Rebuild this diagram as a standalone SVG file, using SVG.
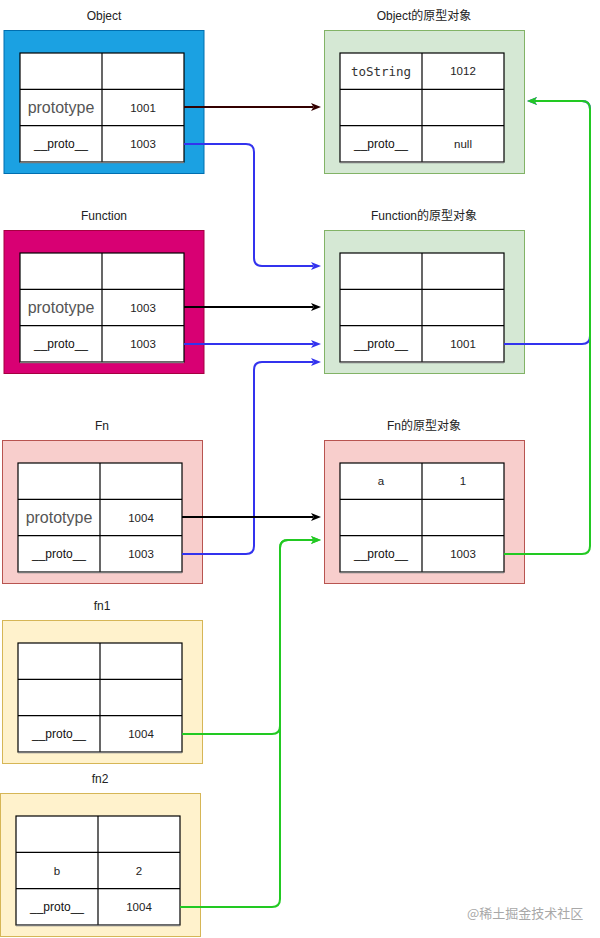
<svg xmlns="http://www.w3.org/2000/svg" width="600" height="938" viewBox="0 0 600 938">
<style>
  text { font-family: "Liberation Sans", Arial, "Noto Sans CJK SC", sans-serif; text-anchor: middle; dominant-baseline: central; fill: #1a1a1a; }
  .title { font-size: 12px; fill: #222; }
  .cell { font-size: 11.5px; fill: #222; }
  .key { font-size: 12px; fill: #111; }
  .big { font-size: 16px; fill: #555; }
  .mono { font-family: "DejaVu Sans Mono", "Liberation Mono", monospace; font-size: 12.5px; fill: #333; }
  .tbl { fill: #fff; stroke: #000; stroke-width: 1.2; }
  .ln { stroke: #000; stroke-width: 1.2; }
  .shadow { stroke: #777; stroke-width: 1.5; }
  .blue-box { fill: #1ba1e2; stroke: #006eaf; }
  .mag-box { fill: #d80073; stroke: #a50040; }
  .green-box { fill: #d5e8d4; stroke: #82b366; }
  .pink-box { fill: #f8cecc; stroke: #b85450; }
  .yel-box { fill: #fff2cc; stroke: #d6b656; }
  .c { fill: none; stroke-width: 2; }
  .wm { font-family: "Noto Sans CJK SC", sans-serif; font-size: 13px; fill: #a8a8a8; text-anchor: start; }
</style>
<defs>
  <marker id="aRed" viewBox="0 0 10 8" markerWidth="10" markerHeight="8" refX="2" refY="4" orient="auto" markerUnits="userSpaceOnUse"><path d="M0,0 L10,4 L0,8 L2.5,4 Z" fill="#330000"/></marker>
  <marker id="aBlack" viewBox="0 0 10 8" markerWidth="10" markerHeight="8" refX="2" refY="4" orient="auto" markerUnits="userSpaceOnUse"><path d="M0,0 L10,4 L0,8 L2.5,4 Z" fill="#000"/></marker>
  <marker id="aBlue" viewBox="0 0 10 8" markerWidth="10" markerHeight="8" refX="2" refY="4" orient="auto" markerUnits="userSpaceOnUse"><path d="M0,0 L10,4 L0,8 L2.5,4 Z" fill="#3333ee"/></marker>
  <marker id="aGreen" viewBox="0 0 10 8" markerWidth="10" markerHeight="8" refX="2" refY="4" orient="auto" markerUnits="userSpaceOnUse"><path d="M0,0 L10,4 L0,8 L2.5,4 Z" fill="#22c922"/></marker>
</defs>
<rect width="600" height="938" fill="#fff"/>

<!-- Object -->
<g id="object">
  <text class="title" x="104" y="16">Object</text>
  <rect class="blue-box" x="4" y="30.5" width="200" height="143"/>
  <rect class="tbl" x="20" y="53" width="164" height="109"/>
  <line class="ln" x1="20" y1="89.3" x2="184" y2="89.3"/>
  <line class="ln" x1="20" y1="125.7" x2="184" y2="125.7"/>
  <line class="ln" x1="102" y1="53" x2="102" y2="162"/>
  <line class="shadow" x1="20" y1="162.5" x2="184" y2="162.5"/>
  <text class="big" x="61" y="107.5">prototype</text>
  <text class="cell" x="143" y="107.5">1001</text>
  <text class="key" x="61" y="144">__proto__</text>
  <text class="cell" x="143" y="144">1003</text>
</g>

<!-- Object prototype -->
<g id="object-proto">
  <text class="title" x="424" y="16">Object的原型对象</text>
  <rect class="green-box" x="324.5" y="30.5" width="200" height="143"/>
  <rect class="tbl" x="340" y="53" width="164" height="109"/>
  <line class="ln" x1="340" y1="89.3" x2="504" y2="89.3"/>
  <line class="ln" x1="340" y1="125.7" x2="504" y2="125.7"/>
  <line class="ln" x1="422" y1="53" x2="422" y2="162"/>
  <line class="shadow" x1="340" y1="162.5" x2="504" y2="162.5"/>
  <text class="mono" x="381" y="71">toString</text>
  <text class="cell" x="463" y="71">1012</text>
  <text class="key" x="381" y="144">__proto__</text>
  <text class="cell" x="463" y="144">null</text>
</g>

<!-- Function -->
<g id="function">
  <text class="title" x="104" y="216">Function</text>
  <rect class="mag-box" x="4" y="230.5" width="200" height="143"/>
  <rect class="tbl" x="20" y="253" width="164" height="109"/>
  <line class="ln" x1="20" y1="289.3" x2="184" y2="289.3"/>
  <line class="ln" x1="20" y1="325.7" x2="184" y2="325.7"/>
  <line class="ln" x1="102" y1="253" x2="102" y2="362"/>
  <line class="shadow" x1="20" y1="362.5" x2="184" y2="362.5"/>
  <text class="big" x="61" y="307.5">prototype</text>
  <text class="cell" x="143" y="307.5">1003</text>
  <text class="key" x="61" y="344">__proto__</text>
  <text class="cell" x="143" y="344">1003</text>
</g>

<!-- Function prototype -->
<g id="function-proto">
  <text class="title" x="424" y="216">Function的原型对象</text>
  <rect class="green-box" x="324.5" y="230.5" width="200" height="143"/>
  <rect class="tbl" x="340" y="253" width="164" height="109"/>
  <line class="ln" x1="340" y1="289.3" x2="504" y2="289.3"/>
  <line class="ln" x1="340" y1="325.7" x2="504" y2="325.7"/>
  <line class="ln" x1="422" y1="253" x2="422" y2="362"/>
  <line class="shadow" x1="340" y1="362.5" x2="504" y2="362.5"/>
  <text class="key" x="381" y="344">__proto__</text>
  <text class="cell" x="463" y="344">1001</text>
</g>

<!-- Fn -->
<g id="fn">
  <text class="title" x="102" y="426">Fn</text>
  <rect class="pink-box" x="2.5" y="440.5" width="200" height="143"/>
  <rect class="tbl" x="18" y="463" width="164" height="109"/>
  <line class="ln" x1="18" y1="499.3" x2="182" y2="499.3"/>
  <line class="ln" x1="18" y1="535.7" x2="182" y2="535.7"/>
  <line class="ln" x1="100" y1="463" x2="100" y2="572"/>
  <line class="shadow" x1="18" y1="572.5" x2="182" y2="572.5"/>
  <text class="big" x="59" y="517.5">prototype</text>
  <text class="cell" x="141" y="517.5">1004</text>
  <text class="key" x="59" y="554">__proto__</text>
  <text class="cell" x="141" y="554">1003</text>
</g>

<!-- Fn prototype -->
<g id="fn-proto">
  <text class="title" x="424" y="426">Fn的原型对象</text>
  <rect class="pink-box" x="324.5" y="440.5" width="200" height="143"/>
  <rect class="tbl" x="340" y="463" width="164" height="109"/>
  <line class="ln" x1="340" y1="499.3" x2="504" y2="499.3"/>
  <line class="ln" x1="340" y1="535.7" x2="504" y2="535.7"/>
  <line class="ln" x1="422" y1="463" x2="422" y2="572"/>
  <line class="shadow" x1="340" y1="572.5" x2="504" y2="572.5"/>
  <text class="cell" x="381" y="481">a</text>
  <text class="cell" x="463" y="481">1</text>
  <text class="key" x="381" y="554">__proto__</text>
  <text class="cell" x="463" y="554">1003</text>
</g>

<!-- fn1 -->
<g id="fn1">
  <text class="title" x="102" y="606">fn1</text>
  <rect class="yel-box" x="2.5" y="620.5" width="200" height="143"/>
  <rect class="tbl" x="18" y="643" width="164" height="109"/>
  <line class="ln" x1="18" y1="679.3" x2="182" y2="679.3"/>
  <line class="ln" x1="18" y1="715.7" x2="182" y2="715.7"/>
  <line class="ln" x1="100" y1="643" x2="100" y2="752"/>
  <line class="shadow" x1="18" y1="752.5" x2="182" y2="752.5"/>
  <text class="key" x="59" y="734">__proto__</text>
  <text class="cell" x="141" y="734">1004</text>
</g>

<!-- fn2 -->
<g id="fn2">
  <text class="title" x="100" y="779">fn2</text>
  <rect class="yel-box" x="0.5" y="793.5" width="200" height="143"/>
  <rect class="tbl" x="16" y="816" width="164" height="109"/>
  <line class="ln" x1="16" y1="852.3" x2="180" y2="852.3"/>
  <line class="ln" x1="16" y1="888.7" x2="180" y2="888.7"/>
  <line class="ln" x1="98" y1="816" x2="98" y2="925"/>
  <line class="shadow" x1="16" y1="925.5" x2="180" y2="925.5"/>
  <text class="cell" x="57" y="870.5">b</text>
  <text class="cell" x="139" y="870.5">2</text>
  <text class="key" x="57" y="907">__proto__</text>
  <text class="cell" x="139" y="907">1004</text>
</g>

<!-- connectors -->
<g id="connectors">
  <path class="c" stroke="#330000" d="M184,107 H313" marker-end="url(#aRed)"/>
  <path class="c" stroke="#3333ee" d="M184,144 H246 Q254,144 254,152 V258 Q254,266 262,266 H313" marker-end="url(#aBlue)"/>
  <path class="c" stroke="#000" d="M184,307 H313" marker-end="url(#aBlack)"/>
  <path class="c" stroke="#3333ee" d="M184,344 H313" marker-end="url(#aBlue)"/>
  <path class="c" stroke="#3333ee" d="M182,554 H246 Q254,554 254,546 V370 Q254,362 262,362 H313" marker-end="url(#aBlue)"/>
  <path class="c" stroke="#000" d="M182,517 H313" marker-end="url(#aBlack)"/>
  <path class="c" stroke="#3333ee" d="M504,344 H582 Q590,344 590,336 V109 Q590,101 582,101 H535" marker-end="url(#aBlue)"/>
  <path class="c" stroke="#22c922" d="M504,554 H582 Q590,554 590,546 V109 Q590,101 582,101 H535" marker-end="url(#aGreen)"/>
  <path class="c" stroke="#22c922" d="M182,734 H272 Q280,734 280,726 V548 Q280,540 288,540 H313" marker-end="url(#aGreen)"/>
  <path class="c" stroke="#22c922" d="M180,907 H272 Q280,907 280,899 V548 Q280,540 288,540 H313" marker-end="url(#aGreen)"/>
</g>

<text class="wm" x="467" y="912">@稀土掘金技术社区</text>
</svg>
